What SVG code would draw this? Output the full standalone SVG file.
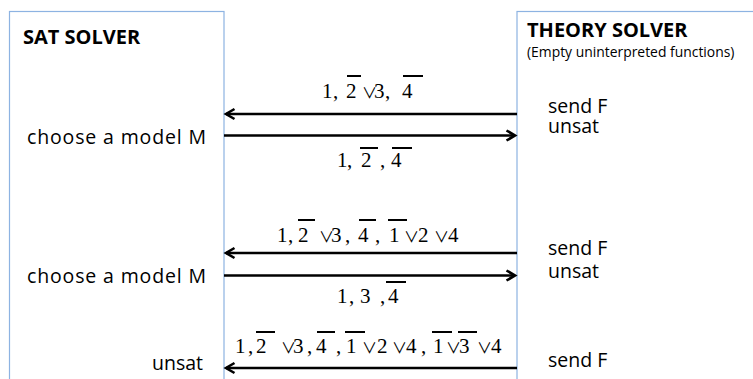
<svg xmlns="http://www.w3.org/2000/svg" width="753" height="379" viewBox="0 0 753 379">
<defs>
<style>
.box{fill:#fff;stroke:#8DB3E2;stroke-width:1.2}
.h{font-family:"Open Sans","Liberation Sans",sans-serif;font-weight:bold;font-size:20px;fill:#000}
.t{font-family:"Open Sans","Liberation Sans",sans-serif;font-size:19.5px;fill:#000}
.s{font-family:"Open Sans","Liberation Sans",sans-serif;font-size:13.9px;fill:#000}
.m{font-family:"Liberation Serif","Noto Sans CJK JP","Times New Roman",serif;font-size:21px;fill:#000}
.o{font-size:15px}
.bar{stroke:#000;stroke-width:2}
.arr{stroke:#000;stroke-width:2.6;fill:none}
</style>
<marker id="ah" markerUnits="userSpaceOnUse" markerWidth="14" markerHeight="14" refX="11" refY="7" orient="auto">
<path d="M2.5,2 L11,7 L2.5,12" fill="none" stroke="#000" stroke-width="2.6"/>
</marker>
</defs>
<rect width="753" height="379" fill="#fff"/>
<g id="sat-solver">
<rect class="box" x="9.5" y="11.5" width="214.5" height="400"/>
<text class="h" x="23" y="44">SAT SOLVER</text>
<text class="t" x="27" y="144" textLength="179" lengthAdjust="spacing">choose a model M</text>
<text class="t" x="27" y="283" textLength="179" lengthAdjust="spacing">choose a model M</text>
<text class="t" x="203" y="370" text-anchor="end">unsat</text>
</g>
<g id="theory-solver">
<rect class="box" x="517" y="11.5" width="300" height="400"/>
<text class="h" x="527" y="37">THEORY SOLVER</text>
<text class="s" x="527" y="57">(Empty uninterpreted functions)</text>
<text class="t" x="548" y="113">send F</text>
<text class="t" x="548" y="133">unsat</text>
<text class="t" x="548" y="255">send F</text>
<text class="t" x="548" y="278">unsat</text>
<text class="t" x="548" y="367">send F</text>
</g>
<g id="connectors">
<line class="arr" x1="517" y1="114" x2="226" y2="114" marker-end="url(#ah)"/>
<line class="arr" x1="224" y1="135.5" x2="515" y2="135.5" marker-end="url(#ah)"/>
<line class="arr" x1="517" y1="253" x2="226" y2="253" marker-end="url(#ah)"/>
<line class="arr" x1="224" y1="275.5" x2="515" y2="275.5" marker-end="url(#ah)"/>
<line class="arr" x1="517" y1="368" x2="226" y2="368" marker-end="url(#ah)"/>
</g>
<g id="labels">
<text class="m" y="98"><tspan x="322">1</tspan><tspan x="333">,</tspan><tspan x="346">2</tspan><tspan class="o" x="362">∨</tspan><tspan x="374">3</tspan><tspan x="385">,</tspan><tspan x="402">4</tspan></text>
<line class="bar" x1="347" y1="76" x2="361" y2="76"/>
<line class="bar" x1="403" y1="76" x2="423" y2="76"/>
<text class="m" y="167"><tspan x="337">1</tspan><tspan x="347">,</tspan><tspan x="361">2</tspan><tspan x="380">,</tspan><tspan x="391">4</tspan></text>
<line class="bar" x1="360" y1="148" x2="378" y2="148"/>
<line class="bar" x1="392" y1="148" x2="412" y2="148"/>
<text class="m" y="242"><tspan x="277">1</tspan><tspan x="288">,</tspan><tspan x="298">2</tspan><tspan class="o" x="319">∨</tspan><tspan x="331">3</tspan><tspan x="345">,</tspan><tspan x="358">4</tspan><tspan x="375">,</tspan><tspan x="389">1</tspan><tspan class="o" x="404">∨</tspan><tspan x="418">2</tspan><tspan class="o" x="434">∨</tspan><tspan x="448">4</tspan></text>
<line class="bar" x1="298" y1="220" x2="315" y2="220"/>
<line class="bar" x1="359" y1="220" x2="376" y2="220"/>
<line class="bar" x1="388" y1="220" x2="407" y2="220"/>
<text class="m" y="303"><tspan x="337">1</tspan><tspan x="349">,</tspan><tspan x="360">3</tspan><tspan x="380">,</tspan><tspan x="388">4</tspan></text>
<line class="bar" x1="386" y1="282" x2="406" y2="282"/>
<text class="m" y="353"><tspan x="235">1</tspan><tspan x="248">,</tspan><tspan x="256">2</tspan><tspan class="o" x="281">∨</tspan><tspan x="293">3</tspan><tspan x="307">,</tspan><tspan x="316">4</tspan><tspan x="336">,</tspan><tspan x="346">1</tspan><tspan class="o" x="362">∨</tspan><tspan x="377">2</tspan><tspan class="o" x="392">∨</tspan><tspan x="406">4</tspan><tspan x="421">,</tspan><tspan x="433">1</tspan><tspan class="o" x="446">∨</tspan><tspan x="459">3</tspan><tspan class="o" x="477">∨</tspan><tspan x="491">4</tspan></text>
<line class="bar" x1="256" y1="332" x2="275" y2="332"/>
<line class="bar" x1="317" y1="332" x2="335" y2="332"/>
<line class="bar" x1="345" y1="332" x2="365" y2="332"/>
<line class="bar" x1="432" y1="332" x2="452" y2="332"/>
<line class="bar" x1="458" y1="332" x2="477" y2="332"/>
</g>
</svg>
